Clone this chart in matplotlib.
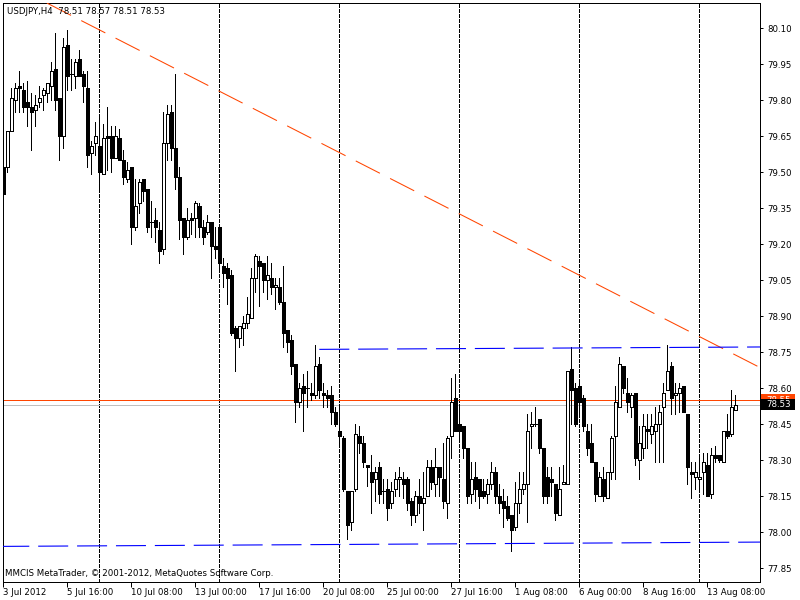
import matplotlib
matplotlib.use("Agg")
import matplotlib.pyplot as plt
from matplotlib.patches import Rectangle
from matplotlib.transforms import blended_transform_factory
import numpy as np

plt.rcParams['font.family'] = ['DejaVu Sans']
plt.rcParams['lines.antialiased'] = False
plt.rcParams['patch.antialiased'] = False

symbol = "USDJPY,H4"

# USDJPY H4 bars, 3 Jul 2012 00:00 onwards (open, high, low, close)
opens = [79.52, 79.52, 79.67, 79.80, 79.86, 79.84, 79.79, 79.77, 79.76, 79.79,
         79.82, 79.83, 79.86, 79.93, 79.81, 79.65, 80.03, 79.91, 79.90, 79.97,
         79.91, 79.85, 79.58, 79.62, 79.61, 79.49, 79.65, 79.65, 79.56, 79.64,
         79.55, 79.47, 79.52, 79.27, 79.37, 79.47, 79.43, 79.29, 79.30, 79.26,
         79.18, 79.62, 79.75, 79.60, 79.48, 79.31, 79.23, 79.31, 79.31, 79.36,
         79.27, 79.25, 79.29, 79.19, 79.27, 79.11, 79.10, 79.07, 78.85, 78.81,
         78.85, 78.87, 78.89, 79.06, 79.13, 79.12, 79.05, 79.06, 79.02, 79.02,
         78.96, 78.84, 78.80, 78.70, 78.54, 78.61, 78.60, 78.58, 78.57, 78.70,
         78.58, 78.57, 78.57, 78.50, 78.42, 78.39, 78.17, 78.04, 78.18, 78.40,
         78.37, 78.28, 78.25, 78.22, 78.27, 78.17, 78.18, 78.12, 78.18, 78.22,
         78.22, 78.22, 78.13, 78.07, 78.15, 78.12, 78.15, 78.27, 78.20, 78.27,
         78.22, 78.12, 78.40, 78.56, 78.45, 78.44, 78.35, 78.16, 78.23, 78.22,
         78.17, 78.16, 78.20, 78.25, 78.15, 78.13, 78.11, 78.07, 78.02, 78.12,
         78.18, 78.20, 78.44, 78.45, 78.47, 78.35, 78.23, 78.22, 78.20, 78.07,
         78.20, 78.20, 78.68, 78.60, 78.61, 78.56, 78.42, 78.37, 78.29, 78.15,
         78.22, 78.14, 78.25, 78.40, 78.52, 78.69, 78.58, 78.52, 78.58, 78.30,
         78.35, 78.43, 78.41, 78.42, 78.45, 78.52, 78.59, 78.69, 78.57, 78.58,
         78.61, 78.49, 78.25, 78.23, 78.22, 78.25, 78.28, 78.16, 78.32, 78.32,
         78.29, 78.42, 78.41, 78.51]
highs = [79.53, 79.67, 79.85, 79.87, 79.92, 79.87, 79.88, 79.83, 79.82, 79.86,
         79.85, 79.87, 79.96, 80.08, 79.81, 80.06, 80.09, 79.97, 79.97, 80.01,
         79.92, 79.92, 79.63, 79.71, 79.73, 79.70, 79.77, 79.69, 79.69, 79.68,
         79.59, 79.54, 79.52, 79.47, 79.47, 79.47, 79.43, 79.38, 79.35, 79.29,
         79.75, 79.78, 79.78, 79.91, 79.52, 79.31, 79.35, 79.33, 79.38, 79.37,
         79.30, 79.32, 79.29, 79.27, 79.28, 79.14, 79.12, 79.09, 78.86, 78.86,
         78.90, 78.98, 79.10, 79.16, 79.15, 79.12, 79.15, 79.12, 79.06, 79.06,
         79.11, 78.84, 78.82, 78.70, 78.62, 78.66, 78.67, 78.62, 78.78, 78.73,
         78.62, 78.59, 78.61, 78.52, 78.53, 78.40, 78.17, 78.17, 78.45, 78.44,
         78.40, 78.28, 78.32, 78.27, 78.29, 78.22, 78.22, 78.21, 78.25, 78.27,
         78.25, 78.23, 78.14, 78.17, 78.22, 78.25, 78.30, 78.30, 78.35, 78.27,
         78.37, 78.40, 78.64, 78.66, 78.53, 78.44, 78.35, 78.29, 78.29, 78.22,
         78.22, 78.22, 78.29, 78.27, 78.20, 78.18, 78.15, 78.07, 78.21, 78.25,
         78.25, 78.49, 78.50, 78.52, 78.47, 78.35, 78.27, 78.27, 78.20, 78.27,
         78.28, 78.67, 78.77, 78.62, 78.62, 78.57, 78.45, 78.45, 78.29, 78.25,
         78.27, 78.25, 78.40, 78.61, 78.73, 78.69, 78.64, 78.58, 78.58, 78.44,
         78.49, 78.49, 78.49, 78.52, 78.53, 78.62, 78.78, 78.71, 78.62, 78.62,
         78.61, 78.49, 78.29, 78.29, 78.31, 78.33, 78.33, 78.35, 78.36, 78.32,
         78.42, 78.49, 78.59, 78.57]
lows = [79.40, 79.50, 79.67, 79.75, 79.75, 79.75, 79.69, 79.59, 79.69, 79.77,
        79.76, 79.79, 79.80, 79.76, 79.55, 79.60, 79.84, 79.84, 79.85, 79.90,
        79.79, 79.52, 79.49, 79.57, 79.42, 79.49, 79.51, 79.50, 79.56, 79.55,
        79.45, 79.46, 79.20, 79.26, 79.33, 79.38, 79.25, 79.23, 79.21, 79.12,
        79.16, 79.55, 79.55, 79.43, 79.22, 79.16, 79.22, 79.24, 79.23, 79.23,
        79.20, 79.24, 79.06, 79.14, 79.10, 79.02, 78.95, 78.82, 78.67, 78.77,
        78.78, 78.85, 78.89, 79.00, 78.94, 79.00, 78.97, 78.99, 78.93, 78.95,
        78.77, 78.75, 78.66, 78.46, 78.52, 78.42, 78.52, 78.55, 78.56, 78.56,
        78.52, 78.52, 78.45, 78.44, 78.37, 78.17, 77.97, 78.01, 78.17, 78.33,
        78.27, 78.19, 78.08, 78.13, 78.12, 78.12, 78.05, 78.10, 78.15, 78.15,
        78.14, 78.09, 78.03, 78.04, 78.08, 78.01, 78.15, 78.18, 78.15, 78.15,
        78.10, 78.06, 78.31, 78.42, 78.38, 78.31, 78.12, 78.12, 78.13, 78.10,
        78.14, 78.12, 78.18, 78.12, 78.08, 78.02, 78.05, 77.92, 78.01, 78.08,
        78.16, 78.04, 78.35, 78.44, 78.33, 78.12, 78.12, 78.15, 78.05, 78.07,
        78.20, 78.20, 78.45, 78.44, 78.49, 78.42, 78.32, 78.29, 78.13, 78.15,
        78.13, 78.14, 78.22, 78.22, 78.52, 78.58, 78.50, 78.48, 78.28, 78.22,
        78.31, 78.35, 78.37, 78.29, 78.29, 78.29, 78.59, 78.49, 78.49, 78.50,
        78.50, 78.20, 78.14, 78.18, 78.18, 78.16, 78.15, 78.14, 78.29, 78.29,
        78.29, 78.39, 78.40, 78.51]
closes = [79.41, 79.67, 79.81, 79.85, 79.85, 79.77, 79.77, 79.75, 79.78, 79.81,
          79.84, 79.87, 79.92, 79.80, 79.65, 80.02, 79.90, 79.91, 79.96, 79.90,
          79.86, 79.57, 79.61, 79.65, 79.50, 79.64, 79.64, 79.56, 79.65, 79.55,
          79.48, 79.51, 79.27, 79.36, 79.46, 79.42, 79.27, 79.29, 79.27, 79.17,
          79.62, 79.74, 79.60, 79.48, 79.30, 79.23, 79.30, 79.30, 79.37, 79.27,
          79.23, 79.29, 79.19, 79.18, 79.12, 79.08, 79.06, 78.83, 78.81, 78.86,
          78.87, 78.91, 79.06, 79.15, 79.11, 79.05, 79.07, 79.02, 79.03, 78.96,
          78.83, 78.79, 78.69, 78.54, 78.60, 78.58, 78.60, 78.57, 78.69, 78.59,
          78.57, 78.56, 78.50, 78.45, 78.40, 78.18, 78.03, 78.17, 78.41, 78.37,
          78.29, 78.27, 78.21, 78.25, 78.16, 78.17, 78.10, 78.17, 78.22, 78.23,
          78.20, 78.12, 78.07, 78.15, 78.12, 78.14, 78.27, 78.21, 78.27, 78.23,
          78.13, 78.39, 78.54, 78.42, 78.42, 78.35, 78.15, 78.22, 78.18, 78.15,
          78.15, 78.20, 78.25, 78.15, 78.12, 78.10, 78.06, 78.01, 78.12, 78.18,
          78.20, 78.42, 78.45, 78.45, 78.35, 78.15, 78.15, 78.21, 78.08, 78.18,
          78.21, 78.67, 78.59, 78.45, 78.54, 78.44, 78.35, 78.29, 78.16, 78.23,
          78.15, 78.25, 78.39, 78.54, 78.70, 78.60, 78.54, 78.57, 78.31, 78.37,
          78.44, 78.42, 78.44, 78.45, 78.50, 78.58, 78.67, 78.56, 78.58, 78.60,
          78.50, 78.27, 78.24, 78.25, 78.23, 78.29, 78.15, 78.32, 78.31, 78.30,
          78.42, 78.40, 78.52, 78.53]

date_ticks = [0, 16, 32, 48, 64, 80, 96, 112, 128, 144, 160, 176]
date_labels = ["3 Jul 2012", "5 Jul 16:00", "10 Jul 08:00", "13 Jul 00:00",
               "17 Jul 16:00", "20 Jul 08:00", "25 Jul 00:00", "27 Jul 16:00",
               "1 Aug 08:00", "6 Aug 00:00", "8 Aug 16:00", "13 Aug 08:00"]
week_starts = [24, 54, 84, 114, 144, 174]
price_ticks = [77.85, 78.00, 78.15, 78.30, 78.45, 78.60, 78.75, 78.90,
               79.05, 79.20, 79.35, 79.50, 79.65, 79.80, 79.95, 80.10]

trend_bars = [10.9, 189.2]
trend_prices = [80.204, 78.685]
resist_bars = [79, 189.2]
resist_prices = [78.761, 78.771]
support_bars = [-1, 189.2]
support_prices = [77.940, 77.958]
bid_price = 78.53
ask_price = 78.55

FS = 6.2
px = 0.72  # one pixel in points at 100 dpi

fig = plt.figure(figsize=(8, 6), dpi=100)
ax = fig.add_axes([3 / 800, 18 / 600, 757 / 800, 579 / 600])
ax.set_xlim(-0.075, 189.175)
ax.set_ylim(77.7917, 80.2042)

x = np.arange(len(opens))
o = np.array(opens)
c = np.array(closes)

# period separators
for w in week_starts:
    ax.axvline(w, color='black', lw=px, dashes=(3, 2), zorder=1)

# bid / ask lines
ax.axhline(bid_price, color='#c0c0c0', lw=px, zorder=1)
ax.axhline(ask_price, color='#ff4500', lw=px, zorder=1)

# candles
ax.vlines(x, lows, highs, color='black', lw=px, zorder=2)
bull = c >= o
bottoms = np.minimum(o, c)
heights = np.abs(c - o)
ax.bar(x, heights, bottom=bottoms, width=0.75,
       color=np.where(bull, 'white', 'black'), edgecolor='black',
       linewidth=px, zorder=3)

# drawn trend lines: thin, antialiased so they read as 1px strokes
ax.plot(trend_bars, trend_prices, color='#ff4500', lw=0.75, dashes=(26, 11),
        antialiased=True, zorder=4)
ax.plot(resist_bars, resist_prices, color='#0000ff', lw=0.8, dashes=(27, 8),
        antialiased=True, zorder=4)
ax.plot(support_bars, support_prices, color='#0000ff', lw=0.8, dashes=(27, 8),
        antialiased=True, zorder=4)

for s in ax.spines.values():
    s.set_linewidth(px)
    s.set_color('black')

ax.yaxis.tick_right()
ax.set_yticks(price_ticks)
ax.set_yticklabels([f"{p:.2f}" for p in price_ticks])
ax.tick_params(axis='y', length=2.5, width=px, pad=2.5, labelsize=FS)
ax.set_xticks(date_ticks)
ax.set_xticklabels(date_labels)
ax.tick_params(axis='x', length=3.5, width=px, pad=0.5, labelsize=FS)
for lbl in ax.get_xticklabels():
    lbl.set_horizontalalignment('left')

# price tags on the right scale; the bid tag sits on top of the ask tag
tr = blended_transform_factory(ax.transAxes, ax.transData)
z = 5
for price, col in [(ask_price, '#ff4500'), (bid_price, 'black')]:
    ax.add_patch(Rectangle((1.0015, price - 0.023), 0.045, 0.046, transform=tr,
                           facecolor=col, edgecolor='none', clip_on=False, zorder=z))
    ax.text(1.008, price, f"{price:.2f}", transform=tr, color='white', fontsize=FS,
            va='center', ha='left', zorder=z + 1, clip_on=False)
    z += 2

fig.text(7 / 800, 1 - 11 / 600,
         f"{symbol}  {opens[-1]:.2f} {highs[-1]:.2f} {lows[-1]:.2f} {closes[-1]:.2f}",
         fontsize=FS, va='center', ha='left')
fig.text(5 / 800, 1 - 574 / 600,
         "MMCIS MetaTrader, \u00a9 2001-2012, MetaQuotes Software Corp.",
         fontsize=FS, va='center', ha='left')

fig.savefig("out.png", dpi=100)
